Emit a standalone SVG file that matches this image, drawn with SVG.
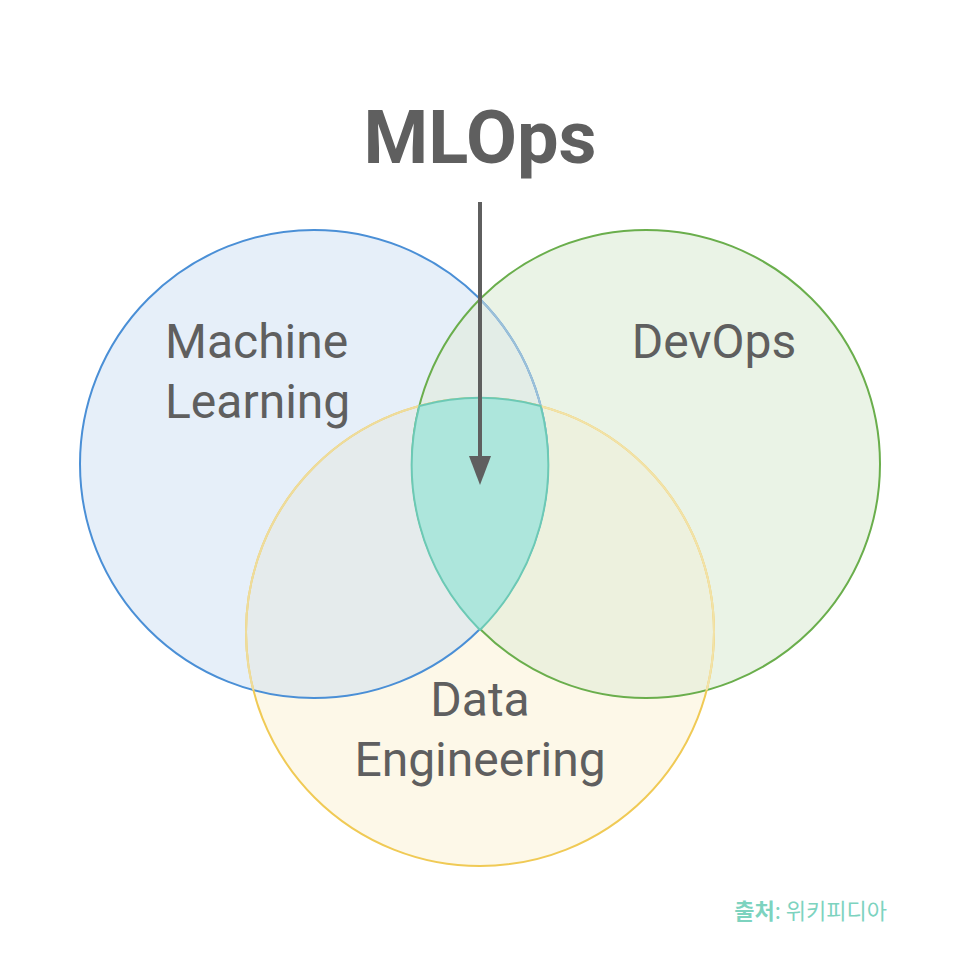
<svg xmlns="http://www.w3.org/2000/svg" width="960" height="960" viewBox="0 0 960 960">
  <style>
    .lbl { font-family: Roboto, "Liberation Sans", sans-serif; fill: #5f5f5f; font-size: 48px; }
    .title { font-family: Roboto, "Liberation Sans", sans-serif; fill: #5f5f5f; font-size: 74px; font-weight: bold; }
    .src { font-family: "Noto Sans CJK KR", "Noto Sans", sans-serif; fill: #7dd3bf; font-size: 22px; }
  </style>
  <defs>
    <clipPath id="cML"><circle cx="314" cy="464" r="234"/></clipPath>
    <clipPath id="cDO"><circle cx="646" cy="464" r="234"/></clipPath>
    <clipPath id="cDE"><circle cx="480" cy="632" r="234"/></clipPath>
  </defs>
  <rect width="960" height="960" fill="#ffffff"/>

  <g id="fills">
    <circle cx="314" cy="464" r="234" fill="#e6eff9"/>
    <circle cx="646" cy="464" r="234" fill="#eaf3e6"/>
    <circle cx="480" cy="632" r="234" fill="#fdf8e8"/>
    <g clip-path="url(#cML)"><circle cx="480" cy="632" r="234" fill="#e5ebec"/></g>
    <g clip-path="url(#cDO)"><circle cx="480" cy="632" r="234" fill="#edf1de"/></g>
    <g clip-path="url(#cML)"><circle cx="646" cy="464" r="234" fill="#e3ede7"/></g>
  </g>

  <g id="machine-learning">
    <circle cx="314" cy="464" r="234" fill="none" stroke="#4a8fd6" stroke-width="2"/>
    <g clip-path="url(#cDO)"><circle cx="314" cy="464" r="234" fill="none" stroke="#9cc0d8" stroke-width="2"/></g>
    <text class="lbl" x="165" y="358">Machine</text>
    <text class="lbl" x="165" y="418">Learning</text>
  </g>
  <g id="devops">
    <circle cx="646" cy="464" r="234" fill="none" stroke="#6aae4c" stroke-width="2"/>
    <text class="lbl" x="714" y="358" text-anchor="middle">DevOps</text>
  </g>
  <g id="data-engineering">
    <circle cx="480" cy="632" r="234" fill="none" stroke="#f0ca55" stroke-width="2"/>
    <g clip-path="url(#cDO)"><circle cx="480" cy="632" r="234" fill="none" stroke="#f2e2a8" stroke-width="2"/></g>
    <g clip-path="url(#cML)"><circle cx="480" cy="632" r="234" fill="none" stroke="#eedc9c" stroke-width="2"/></g>
    <text class="lbl" x="480" y="716" text-anchor="middle">Data</text>
    <text class="lbl" x="480" y="776" text-anchor="middle">Engineering</text>
  </g>

  <g id="mlops">
    <path d="M419.3 406 A234 234 0 0 1 540.7 406 A234 234 0 0 1 480 630 A234 234 0 0 1 419.3 406 Z" fill="#ade6dc" stroke="#6cc9b5" stroke-width="2" stroke-linejoin="round"/>
    <text class="title" x="480" y="163" text-anchor="middle">MLOps</text>
  </g>

  <g id="connectors">
    <line x1="480" y1="202" x2="480" y2="460" stroke="#5f5f5f" stroke-width="4"/>
    <polygon points="469,456 491,456 480,485" fill="#5f5f5f"/>
  </g>

  <text class="src" x="887" y="919" text-anchor="end"><tspan font-weight="bold">출처</tspan>: 위키피디아</text>
</svg>
